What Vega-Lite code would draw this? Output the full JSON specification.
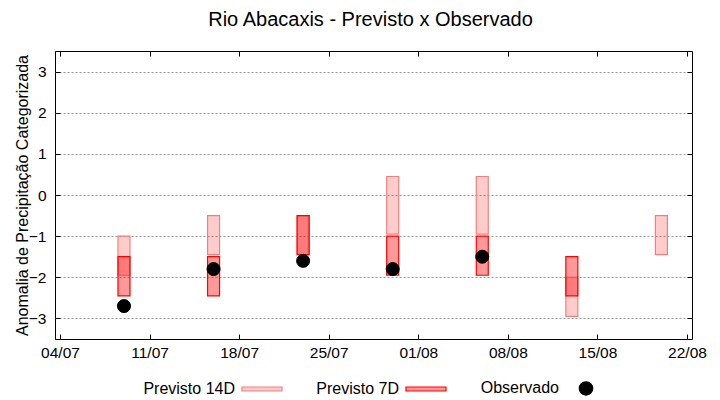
{
  "$schema": "https://vega.github.io/schema/vega-lite/v6.json",
  "width": 637,
  "height": 288,
  "autosize": {"type": "none"},
  "padding": {"left": 55, "top": 51, "right": 28, "bottom": 61},
  "background": "white",
  "title": {"text": "Rio Abacaxis - Previsto x Observado", "font": "Liberation Sans", "fontSize": 20, "fontWeight": "normal", "color": "black", "anchor": "middle", "offset": 21, "dx": -3},
  "config": {
    "view": {"stroke": "black", "strokeWidth": 1},
    "axis": {"labelFont": "Liberation Sans", "labelFontSize": 15.5, "labelColor": "black", "titleFont": "Liberation Sans", "titleFontWeight": "normal", "titleColor": "black", "tickColor": "black", "tickWidth": 1, "domain": false, "labelFlush": false, "labelOverlap": false}
  },
  "data": {"values": [
    {"date": "2025-07-09", "serie": "Previsto 14D", "lo": -1.95, "hi": -1.0},
    {"date": "2025-07-16", "serie": "Previsto 14D", "lo": -1.45, "hi": -0.5},
    {"date": "2025-07-23", "serie": "Previsto 14D", "lo": -1.45, "hi": -0.5},
    {"date": "2025-07-30", "serie": "Previsto 14D", "lo": -0.95, "hi": 0.45},
    {"date": "2025-08-06", "serie": "Previsto 14D", "lo": -0.95, "hi": 0.45},
    {"date": "2025-08-13", "serie": "Previsto 14D", "lo": -2.95, "hi": -2.0},
    {"date": "2025-08-20", "serie": "Previsto 14D", "lo": -1.45, "hi": -0.5},
    {"date": "2025-07-09", "serie": "Previsto 7D", "lo": -2.45, "hi": -1.5},
    {"date": "2025-07-16", "serie": "Previsto 7D", "lo": -2.45, "hi": -1.5},
    {"date": "2025-07-23", "serie": "Previsto 7D", "lo": -1.45, "hi": -0.5},
    {"date": "2025-07-30", "serie": "Previsto 7D", "lo": -1.95, "hi": -1.0},
    {"date": "2025-08-06", "serie": "Previsto 7D", "lo": -1.95, "hi": -1.0},
    {"date": "2025-08-13", "serie": "Previsto 7D", "lo": -2.45, "hi": -1.5},
    {"date": "2025-07-09", "serie": "Observado", "val": -2.7},
    {"date": "2025-07-16", "serie": "Observado", "val": -1.8},
    {"date": "2025-07-23", "serie": "Observado", "val": -1.6},
    {"date": "2025-07-30", "serie": "Observado", "val": -1.8},
    {"date": "2025-08-06", "serie": "Observado", "val": -1.5}
  ]},
  "resolve": {"axis": {"x": "independent", "y": "independent"}},
  "layer": [
    {
      "transform": [{"filter": "datum.serie != 'Observado'"}],
      "mark": {"type": "bar", "size": 12, "strokeWidth": 1.2},
      "encoding": {
        "x": {"field": "date", "type": "temporal",
          "scale": {"type": "utc", "domain": [{"year": 2025, "month": 7, "date": 4, "utc": true}, {"year": 2025, "month": 8, "date": 22, "utc": true}]},
          "axis": {"orient": "bottom", "format": "%d/%m", "title": null, "grid": false, "tickSize": -5, "labelPadding": 11,
            "values": [{"year": 2025, "month": 7, "date": 4, "utc": true}, {"year": 2025, "month": 7, "date": 11, "utc": true}, {"year": 2025, "month": 7, "date": 18, "utc": true}, {"year": 2025, "month": 7, "date": 25, "utc": true}, {"year": 2025, "month": 8, "date": 1, "utc": true}, {"year": 2025, "month": 8, "date": 8, "utc": true}, {"year": 2025, "month": 8, "date": 15, "utc": true}, {"year": 2025, "month": 8, "date": 22, "utc": true}]}},
        "y": {"field": "hi", "type": "quantitative",
          "scale": {"domain": [-3.5, 3.5], "nice": false, "zero": false},
          "axis": {"orient": "left", "values": [-3, -2, -1, 0, 1, 2, 3], "title": "Anomalia de Precipitação Categorizada", "titleFontSize": 16, "titlePadding": -2, "tickSize": -5, "labelPadding": 14, "grid": true, "gridColor": "#999999", "gridDash": [2, 2], "gridWidth": 1}},
        "y2": {"field": "lo"},
        "fill": {"field": "serie", "type": "nominal", "title": null,
          "scale": {"domain": ["Previsto 14D", "Previsto 7D", "Observado"], "range": ["rgba(255,0,0,0.2)", "rgba(255,0,0,0.4)", "black"]},
          "legend": {"orient": "none", "legendX": 186, "legendY": 316, "direction": "horizontal", "labelFont": "Liberation Sans", "labelFontSize": 16, "labelColor": "black", "symbolSize": 1600, "symbolStrokeWidth": 1.2, "columnPadding": 31, "labelOffset": 6,
            "encode": {
              "symbols": {"update": {"shape": {"signal": "datum.label === 'Observado' ? 'circle' : 'M-1,-0.1H1V0.1H-1Z'"}, "size": {"signal": "datum.label === 'Observado' ? 180 : 1600"}}},
              "labels": {"update": {"align": {"value": "right"}, "dx": {"value": -54}}}
            }}},
        "stroke": {"field": "serie", "type": "nominal", "title": null,
          "scale": {"domain": ["Previsto 14D", "Previsto 7D", "Observado"], "range": ["#F08080", "#FF0000", "black"]}}
      }
    },
    {
      "transform": [{"filter": "datum.serie == 'Observado'"}],
      "mark": {"type": "point", "filled": true, "shape": "circle", "size": 170, "opacity": 1, "strokeWidth": 1},
      "encoding": {
        "x": {"field": "date", "type": "temporal",
          "scale": {"type": "utc", "domain": [{"year": 2025, "month": 7, "date": 4, "utc": true}, {"year": 2025, "month": 8, "date": 22, "utc": true}]},
          "axis": {"orient": "top", "labels": false, "title": null, "grid": false, "tickSize": -5,
            "values": [{"year": 2025, "month": 7, "date": 4, "utc": true}, {"year": 2025, "month": 7, "date": 11, "utc": true}, {"year": 2025, "month": 7, "date": 18, "utc": true}, {"year": 2025, "month": 7, "date": 25, "utc": true}, {"year": 2025, "month": 8, "date": 1, "utc": true}, {"year": 2025, "month": 8, "date": 8, "utc": true}, {"year": 2025, "month": 8, "date": 15, "utc": true}, {"year": 2025, "month": 8, "date": 22, "utc": true}]}},
        "y": {"field": "val", "type": "quantitative",
          "scale": {"domain": [-3.5, 3.5], "nice": false, "zero": false},
          "axis": {"orient": "right", "values": [-3, -2, -1, 0, 1, 2, 3], "labels": false, "title": null, "grid": false, "tickSize": -5}},
        "fill": {"field": "serie", "type": "nominal", "title": null},
        "stroke": {"field": "serie", "type": "nominal", "title": null}
      }
    }
  ]
}
